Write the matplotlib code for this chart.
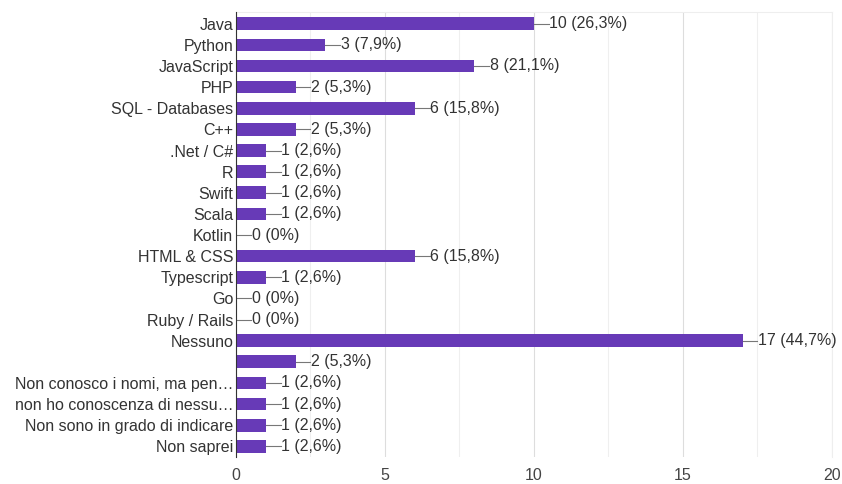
import matplotlib.pyplot as plt
import numpy as np

plt.rcParams['font.family'] = ['Liberation Sans', 'DejaVu Sans']

labels = ["Java", "Python", "JavaScript", "PHP", "SQL - Databases", "C++",
          ".Net / C#", "R", "Swift", "Scala", "Kotlin", "HTML & CSS",
          "Typescript", "Go", "Ruby / Rails", "Nessuno", "",
          "Non conosco i nomi, ma pen\u2026", "non ho conoscenza di nessu\u2026",
          "Non sono in grado di indicare", "Non saprei"]
counts = [10, 3, 8, 2, 6, 2, 1, 1, 1, 1, 0, 6, 1, 0, 0, 17, 2, 1, 1, 1, 1]
total = 38

fig = plt.figure(figsize=(8.42, 4.84), dpi=100)
ax = fig.add_axes([0.2803, 0.056, 0.988 - 0.2803, 0.975 - 0.056])

y = np.arange(len(counts))
ax.barh(y, counts, height=0.6, color="#673ab7", zorder=3)

for i, v in enumerate(counts):
    pct = v / total * 100
    pct_txt = "0%" if v == 0 else f"{pct:.1f}%".replace(".", ",")
    ax.plot([v, v + 0.5], [i, i], color="#777777", lw=0.8, zorder=3)
    ax.text(v + 0.52, i, f"{v} ({pct_txt})", va="center", ha="left",
            fontsize=11.5, color="#333333")

ax.set_xlim(0, 20)
ax.set_ylim(len(counts) - 0.5, -0.55)
ax.set_yticks(y)
ax.set_yticklabels(labels, fontsize=11.5, color="#333333")
ax.set_xticks([0, 5, 10, 15, 20])
ax.set_xticks([2.5, 7.5, 12.5, 17.5], minor=True)
ax.tick_params(axis="x", labelsize=11.5, colors="#444444", length=0, pad=8)
ax.tick_params(axis="x", which="minor", length=0)
ax.tick_params(axis="y", length=0, pad=2)
ax.grid(axis="x", which="major", color="#dddddd", lw=0.8, zorder=0)
ax.grid(axis="x", which="minor", color="#efefef", lw=0.8, zorder=0)

ax.spines["left"].set_color("#333333")
ax.spines["left"].set_zorder(4)
ax.spines["bottom"].set_visible(False)
ax.spines["top"].set_color("#eeeeee")
ax.spines["right"].set_color("#eeeeee")

fig.savefig("out.png", dpi=100)
